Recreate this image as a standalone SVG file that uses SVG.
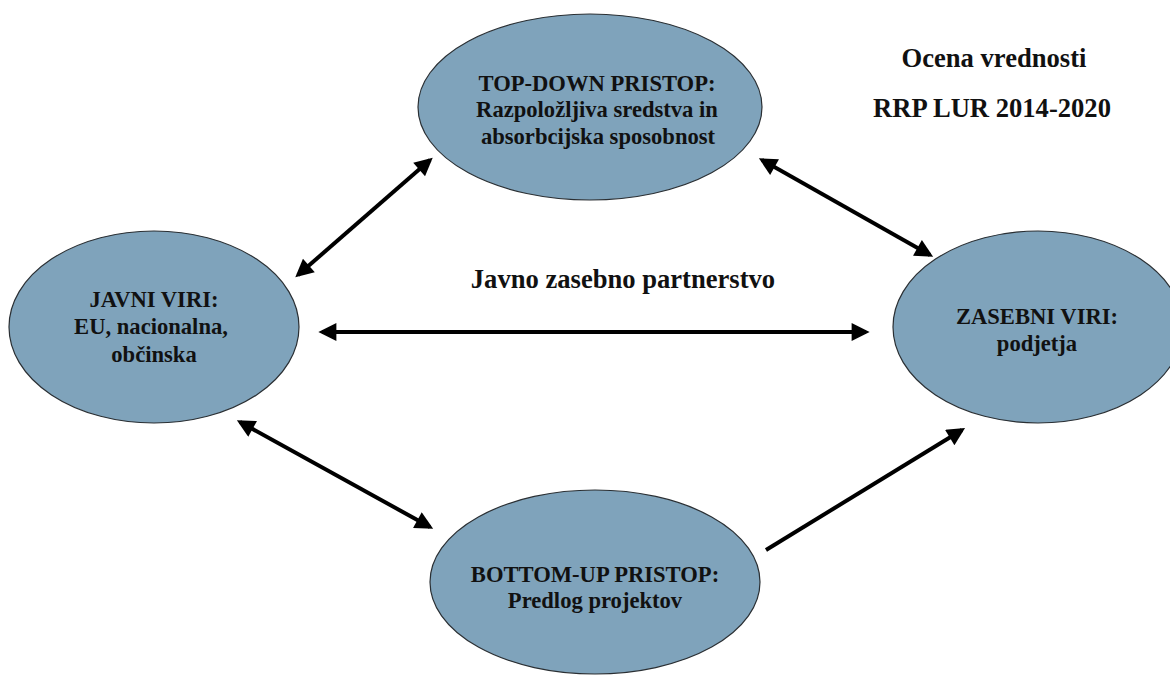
<svg xmlns="http://www.w3.org/2000/svg" width="1170" height="677" viewBox="0 0 1170 677">
<style>
.node ellipse{fill:#7FA3BB;stroke:#2a2f33;stroke-width:1.2}
text{font-family:"Liberation Serif","Times New Roman",serif;font-weight:bold;font-size:22.6px;fill:#111;text-anchor:middle}
#labels text{font-size:26.6px}
.conn line{stroke:#000;stroke-width:4}
</style>
<defs>
<marker id="ah" viewBox="0 0 10 10" refX="8" refY="5" markerWidth="5" markerHeight="4.5" orient="auto-start-reverse" markerUnits="strokeWidth">
<path d="M0,0 L10,5 L0,10 z" fill="#000"/>
</marker>
</defs>
<rect width="1170" height="677" fill="#fff"/>
<g class="conn">
<line x1="298" y1="275" x2="430" y2="160" marker-start="url(#ah)" marker-end="url(#ah)"/>
<line x1="762" y1="160" x2="930" y2="255" marker-start="url(#ah)" marker-end="url(#ah)"/>
<line x1="322" y1="332" x2="866" y2="332" marker-start="url(#ah)" marker-end="url(#ah)"/>
<line x1="240" y1="422" x2="430" y2="527" marker-start="url(#ah)" marker-end="url(#ah)"/>
<line x1="766" y1="550" x2="962" y2="430" marker-end="url(#ah)"/>
</g>
<g id="top" class="node">
<ellipse cx="590" cy="107" rx="172" ry="93"/>
<text x="597" y="91">TOP-DOWN PRISTOP:</text>
<text x="597" y="117">Razpoložljiva sredstva in</text>
<text x="598" y="144">absorbcijska sposobnost</text>
</g>
<g id="left" class="node">
<ellipse cx="154" cy="327" rx="145" ry="96"/>
<text x="154" y="307">JAVNI VIRI:</text>
<text x="151" y="334">EU, nacionalna,</text>
<text x="154" y="362">občinska</text>
</g>
<g id="right" class="node">
<ellipse cx="1038" cy="327" rx="145" ry="96"/>
<text x="1037" y="324">ZASEBNI VIRI:</text>
<text x="1037" y="351">podjetja</text>
</g>
<g id="bottom" class="node">
<ellipse cx="595" cy="582" rx="165" ry="92"/>
<text x="595" y="582">BOTTOM-UP PRISTOP:</text>
<text x="595" y="608">Predlog projektov</text>
</g>
<g id="labels">
<text x="994" y="67">Ocena vrednosti</text>
<text x="992" y="117">RRP LUR 2014-2020</text>
<text x="623" y="288">Javno zasebno partnerstvo</text>
</g>
</svg>
